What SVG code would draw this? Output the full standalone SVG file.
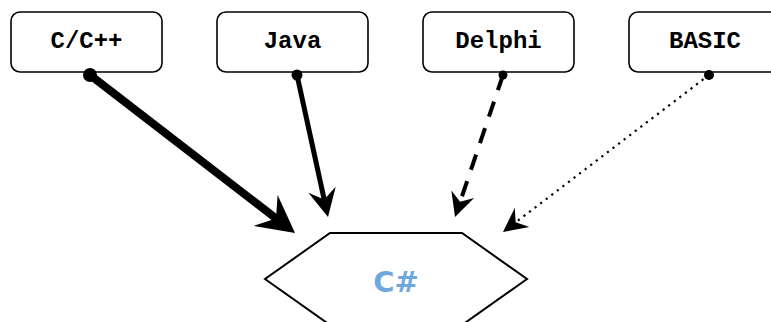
<svg xmlns="http://www.w3.org/2000/svg" width="771" height="322" viewBox="0 0 771 322">
<style>
.box{fill:#fff;stroke:#000;stroke-width:1.6}
.lbl{font-family:"Liberation Mono","Courier New",monospace;font-weight:bold;font-size:24px;fill:#000;text-anchor:middle}
.hex{fill:#fff;stroke:#000;stroke-width:2}
.cs{font-family:"DejaVu Sans",Verdana,sans-serif;font-weight:bold;font-size:29px;fill:#6fa8dc;text-anchor:middle}
.conn{fill:none;stroke:#000}
.dot{fill:#000}
</style>
<defs>
<marker id="aBig" markerUnits="userSpaceOnUse" viewBox="0 -20 38 40" markerWidth="38" markerHeight="40" refX="15" refY="0" orient="auto"><path d="M0,-19.5 L37,0 L0,19.5 L13,0 z" fill="#000"/></marker>
<marker id="aMed" markerUnits="userSpaceOnUse" viewBox="0 -15 29 30" markerWidth="29" markerHeight="30" refX="12" refY="0" orient="auto"><path d="M0,-14 L28,0 L0,14 L10,0 z" fill="#000"/></marker>
<marker id="aSm" markerUnits="userSpaceOnUse" viewBox="0 -13 25 26" markerWidth="25" markerHeight="26" refX="10" refY="0" orient="auto"><path d="M0,-12 L24,0 L0,12 L8,0 z" fill="#000"/></marker>
</defs>
<g id="node-csharp">
<polygon class="hex" points="330,233 462,233 527,279 462,325 330,325 265,279"/>
<text class="cs" x="396" y="292">C#</text>
</g>
<g id="node-c">
<rect class="box" x="11" y="12" width="151" height="60" rx="9"/>
<text class="lbl" x="86.5" y="48">C/C++</text>
</g>
<g id="node-java">
<rect class="box" x="217" y="12" width="151" height="60" rx="9"/>
<text class="lbl" x="292.5" y="48">Java</text>
</g>
<g id="node-delphi">
<rect class="box" x="423" y="12" width="151" height="60" rx="9"/>
<text class="lbl" x="498.5" y="48">Delphi</text>
</g>
<g id="node-basic">
<rect class="box" x="629" y="12" width="151" height="60" rx="9"/>
<text class="lbl" x="705" y="48">BASIC</text>
</g>
<g id="connectors">
<line class="conn" x1="90" y1="75" x2="277.6" y2="219.6" stroke-width="8" marker-end="url(#aBig)"/>
<circle class="dot" cx="90" cy="75" r="7"/>
<line class="conn" x1="297" y1="75" x2="324.6" y2="201.4" stroke-width="5" marker-end="url(#aMed)"/>
<circle class="dot" cx="297" cy="75" r="5.5"/>
<line class="conn" x1="503" y1="75" x2="459.5" y2="203.7" stroke-width="4" stroke-dasharray="16 12" marker-end="url(#aSm)"/>
<circle class="dot" cx="503" cy="75" r="4.5"/>
<line class="conn" x1="709" y1="75" x2="514.1" y2="223.5" stroke-width="2.2" stroke-dasharray="2.2 4.8" marker-end="url(#aSm)"/>
<circle class="dot" cx="709" cy="75" r="5"/>
</g>
</svg>
